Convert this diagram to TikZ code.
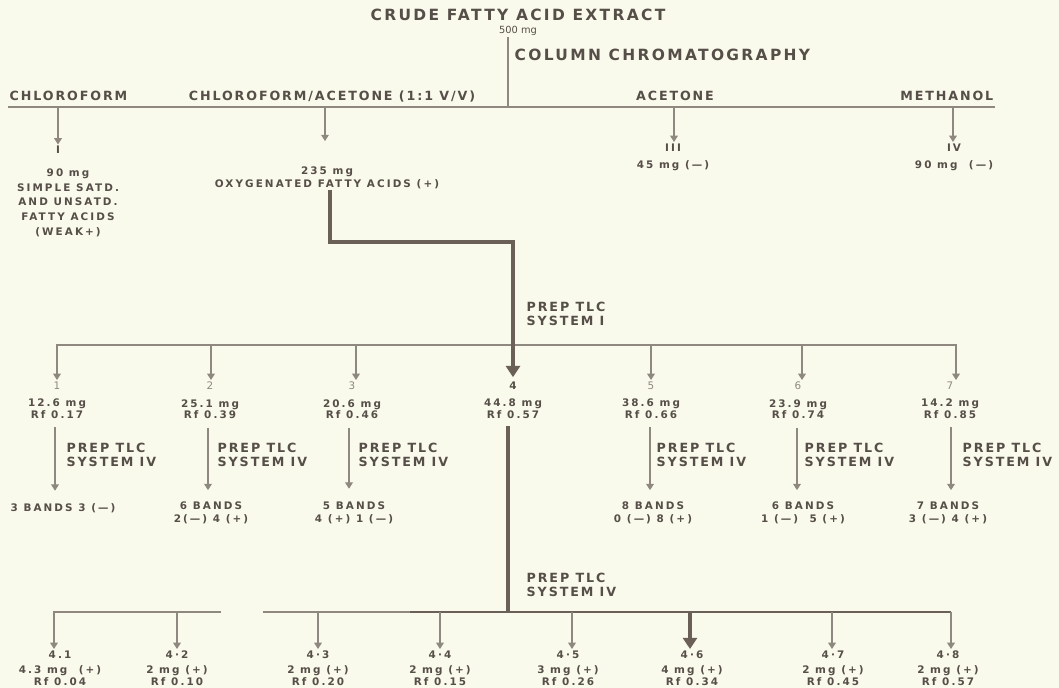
\documentclass[tikz,border=0pt]{standalone}
\usepackage{fontspec}
\usepackage{tikz}
\usetikzlibrary{arrows.meta,positioning,calc}
\newfontfamily\labfont{DejaVu Sans}[LetterSpace=15]
\newfontfamily\smfont{DejaVu Sans}[LetterSpace=20]
\newfontfamily\plainfont{DejaVu Sans}
\definecolor{paper}{HTML}{FAFAEC}
\definecolor{ink}{HTML}{564E48}
\definecolor{rule}{HTML}{8E8880}
\definecolor{heavyink}{HTML}{6A6058}
\newcommand\fracno[1]{{\mdseries\color{rule}#1}}

\begin{document}
\begin{tikzpicture}[x=0.025cm,y=-0.025cm,
  big/.style={text=ink,font=\labfont\bfseries\fontsize{11}{12}\selectfont,inner sep=1pt},
  lab/.style={text=ink,font=\labfont\bfseries\fontsize{9}{10.5}\selectfont,align=left,inner sep=1pt},
  sm/.style={text=ink,font=\smfont\bfseries\fontsize{7.4}{8.2}\selectfont,align=center,inner sep=1pt},
  ln/.style={draw=rule,line width=0.8pt},
  arr/.style={ln,-{Triangle[width=5.5pt,length=4.5pt]}},
  mid/.style={draw=heavyink,line width=1.8pt},
  heavy/.style={draw=heavyink,line width=3.5pt,line join=miter},
  heavyarr/.style={heavy,-{Triangle[width=10pt,length=8pt]}}
]
\fill[paper] (0,0) rectangle (1059,688);
\useasboundingbox (0,0) rectangle (1059,688);

% extract and column
\node[big] (crude) at (518,15) {CRUDE FATTY ACID EXTRACT};
\node[text=ink,font=\plainfont\fontsize{7}{8}\selectfont,inner sep=1pt] (load) at (518,31) {500 mg};
\node[big,anchor=west] (column) at (513,55) {COLUMN CHROMATOGRAPHY};
\coordinate (hub) at (508,107);
\draw[ln] (hub |- load.south) -- (hub);

% solvents
\node[lab,anchor=base west] (chl) at (8,101) {CHLOROFORM};
\node[lab,anchor=base] (chlac) at (332,101) {CHLOROFORM/ACETONE (1:1 V/V)};
\node[lab,anchor=base] (acet) at (675,101) {ACETONE};
\node[lab,anchor=base east] (meth) at (995,101) {METHANOL};
\draw[ln] (chl.base west |- hub) -- (meth.base east |- hub);
\draw[ln,line width=1.6pt] (chl.base west |- hub) -- (chl.base east |- hub);
\draw[ln,line width=1.6pt] (meth.base west |- hub) -- (meth.base east |- hub);

\coordinate (s1) at (58,107);
\coordinate (s2) at (325,107);
\coordinate (s3) at (674,107);
\coordinate (s4) at (953,107);

% column fractions
\node[sm] (fI) at (58,150) {I};
\node[sm,anchor=north] (f1) at (68,167) {90 mg\\[2.3pt]SIMPLE SATD.\\[2.3pt]AND UNSATD.\\[2.3pt]FATTY ACIDS\\[2.3pt](WEAK+)};
\node[sm,anchor=north] (f2) at (327,165) {235 mg\\[0.8pt]OXYGENATED FATTY ACIDS (+)};
\node[sm,anchor=north] (f3) at (673,142) {III\\[4.2pt]45 mg (—)};
\node[sm,anchor=north] (f4) at (954,142) {IV\\[4.2pt]90 mg\ \ (—)};
\draw[arr] (s1) -- (fI.north);
\draw[arr,shorten >=17pt] (s2) -- (s2 |- f2.north);
\draw[arr] (s3) -- (s3 |- f3.north);
\draw[arr] (s4) -- (s4 |- f4.north);

% prep TLC system I
\coordinate (jog) at (513,242);
\node[lab,anchor=west] (tlc1) at (525,314) {PREP TLC\\SYSTEM I};
\coordinate (b1) at (57,345);
\coordinate (b2) at (211,345);
\coordinate (b3) at (356,345);
\coordinate (b4) at (513,345);
\coordinate (b5) at (651,345);
\coordinate (b6) at (802,345);
\coordinate (b7) at (956,345);
\draw[ln,line cap=rect] (b1) -- (b7);

\node[sm,anchor=north] (g1) at (57,380) {\fracno{1}\\[4.4pt]12.6 mg\\Rf 0.17};
\node[sm,anchor=north] (g2) at (210,380) {\fracno{2}\\[4.4pt]25.1 mg\\Rf 0.39};
\node[sm,anchor=north] (g3) at (352,380) {\fracno{3}\\[4.4pt]20.6 mg\\Rf 0.46};
\node[sm,anchor=north] (g4) at (513,380) {4\\[4.4pt]44.8 mg\\Rf 0.57};
\node[sm,anchor=north] (g5) at (651,380) {\fracno{5}\\[4.4pt]38.6 mg\\Rf 0.66};
\node[sm,anchor=north] (g6) at (798,380) {\fracno{6}\\[4.4pt]23.9 mg\\Rf 0.74};
\node[sm,anchor=north] (g7) at (950,380) {\fracno{7}\\[4.4pt]14.2 mg\\Rf 0.85};
\draw[arr] (b1) -- (b1 |- g1.north);
\draw[arr] (b2) -- (b2 |- g2.north);
\draw[arr] (b3) -- (b3 |- g3.north);
\draw[arr] (b5) -- (b5 |- g5.north);
\draw[arr] (b6) -- (b6 |- g6.north);
\draw[arr] (b7) -- (b7 |- g7.north);
\draw[heavyarr,shorten >=2pt] (f2.south -| 330,0) |- (jog) -- (g4.north);

% prep TLC system IV on each band
\node[sm,anchor=north] (r1) at (63,502) {3 BANDS 3 (—)};
\node[sm,anchor=north] (r2) at (211,500) {6 BANDS\\[0.8pt]2(—) 4 (+)};
\node[sm,anchor=north] (r3) at (354,500) {5 BANDS\\[0.8pt]4 (+) 1 (—)};
\node[sm,anchor=north] (r5) at (653,500) {8 BANDS\\[0.8pt]0 (—) 8 (+)};
\node[sm,anchor=north] (r6) at (803,500) {6 BANDS\\[0.8pt]1 (—)\ \ 5 (+)};
\node[sm,anchor=north] (r7) at (948,500) {7 BANDS\\[0.8pt]3 (—) 4 (+)};
\node[lab,anchor=west] (p1) at (65,455) {PREP TLC\\SYSTEM IV};
\node[lab,anchor=west] (p2) at (216,455) {PREP TLC\\SYSTEM IV};
\node[lab,anchor=west] (p3) at (357,455) {PREP TLC\\SYSTEM IV};
\node[lab,anchor=west] (p5) at (655,455) {PREP TLC\\SYSTEM IV};
\node[lab,anchor=west] (p6) at (803,455) {PREP TLC\\SYSTEM IV};
\node[lab,anchor=west] (p7) at (961,455) {PREP TLC\\SYSTEM IV};
\draw[arr,shorten <=5pt,shorten >=8pt] (g1.south -| 55,0) -- (55,0 |- r1.north);
\draw[arr,shorten <=5pt,shorten >=7pt] (g2.south -| 208,0) -- (208,0 |- r2.north);
\draw[arr,shorten <=5pt,shorten >=8pt] (g3.south -| 349,0) -- (349,0 |- r3.north);
\draw[arr,shorten <=5pt,shorten >=7pt] (g5.south -| 650,0) -- (650,0 |- r5.north);
\draw[arr,shorten <=5pt,shorten >=7pt] (g6.south -| 797,0) -- (797,0 |- r6.north);
\draw[arr,shorten <=5pt,shorten >=7pt] (g7.south -| 951,0) -- (951,0 |- r7.north);

% fraction 4 to system IV
\node[lab,anchor=west] (tlc4) at (525,585) {PREP TLC\\SYSTEM IV};
\coordinate (d1) at (54,612);
\coordinate (d2) at (177,612);
\coordinate (gapL) at (220,612);
\coordinate (gapR) at (263,612);
\coordinate (d3) at (318,612);
\coordinate (wide) at (410,612);
\coordinate (d4) at (440,612);
\coordinate (d5) at (572,612);
\coordinate (d6) at (690,612);
\coordinate (d7) at (832,612);
\coordinate (d8) at (951,612);
\draw[ln,line cap=rect] (d1) -- (gapL);
\draw[ln] (gapR) -- (wide);
\draw[mid] (wide) -- (d8);
\draw[heavy,shorten <=4pt] (g4.south -| 508,0) -- (508,0 |- d4);

\node[sm,anchor=north] (h1) at (60,649) {4.1\\[2.3pt]4.3 mg\ \ (+)\\[0.8pt]Rf 0.04};
\node[sm,anchor=north] (h2) at (177,649) {4·2\\[2.3pt]2 mg (+)\\[0.8pt]Rf 0.10};
\node[sm,anchor=north] (h3) at (318,649) {4·3\\[2.3pt]2 mg (+)\\[0.8pt]Rf 0.20};
\node[sm,anchor=north] (h4) at (440,649) {4·4\\[2.3pt]2 mg (+)\\[0.8pt]Rf 0.15};
\node[sm,anchor=north] (h5) at (568,649) {4·5\\[2.3pt]3 mg (+)\\[0.8pt]Rf 0.26};
\node[sm,anchor=north] (h6) at (692,649) {4·6\\[2.3pt]4 mg (+)\\[0.8pt]Rf 0.34};
\node[sm,anchor=north] (h7) at (833,649) {4·7\\[2.3pt]2 mg (+)\\[0.8pt]Rf 0.45};
\node[sm,anchor=north] (h8) at (948,649) {4·8\\[2.3pt]2 mg (+)\\[0.8pt]Rf 0.57};
\draw[arr] (d1) -- (d1 |- h1.north);
\draw[arr] (d2) -- (d2 |- h2.north);
\draw[arr] (d3) -- (d3 |- h3.north);
\draw[arr] (d4) -- (d4 |- h4.north);
\draw[arr] (d5) -- (d5 |- h5.north);
\draw[heavyarr] (d6) -- (d6 |- h6.north);
\draw[arr] (d7) -- (d7 |- h7.north);
\draw[arr] (d8) -- (d8 |- h8.north);
\end{tikzpicture}
\end{document}
